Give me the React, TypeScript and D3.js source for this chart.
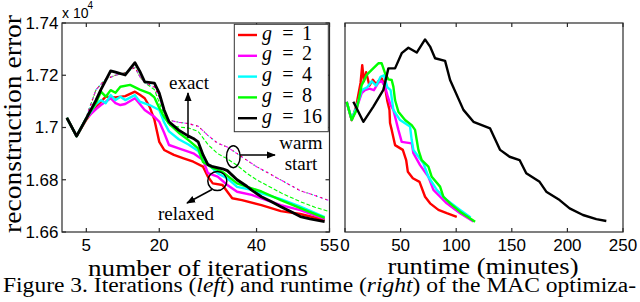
import React from 'react';
import * as d3 from 'd3';

// left panel: error vs iterations
const itBlack = [1, 3, 5, 7, 8, 10, 11, 13, 15, 16, 17, 19, 20, 21, 22, 24, 26, 27, 28, 29, 30, 31, 33, 34, 36, 38, 39, 41, 43, 45, 47, 49, 51, 54];
const errBlack = [1.7037, 1.6967, 1.7035, 1.7105, 1.7145, 1.7217, 1.7212, 1.7201, 1.7248, 1.7215, 1.7175, 1.717, 1.7132, 1.7067, 1.7022, 1.699, 1.6967, 1.6958, 1.6945, 1.6895, 1.6858, 1.685, 1.6842, 1.6835, 1.68, 1.6775, 1.676, 1.6735, 1.6717, 1.6697, 1.6678, 1.6659, 1.665, 1.664];
const itGreen = [1, 3, 5, 7, 8, 9, 10, 11, 12, 14, 16, 18, 19, 20, 21, 22, 24, 26, 28, 29, 31, 33, 36, 39, 41, 45, 49, 54];
const errGreen = [1.7037, 1.6967, 1.7035, 1.7095, 1.7137, 1.7118, 1.7143, 1.7133, 1.7156, 1.7163, 1.7145, 1.7131, 1.7115, 1.7075, 1.704, 1.7015, 1.698, 1.6952, 1.692, 1.6868, 1.6845, 1.683, 1.6786, 1.6767, 1.6755, 1.6722, 1.6691, 1.6654];
const itCyan = [1, 3, 5, 7, 8, 9, 10, 11, 12, 13, 15, 16, 18, 20, 21, 22, 24, 26, 28, 29, 30, 32, 34, 36, 39, 41, 45, 49, 54];
const errCyan = [1.7037, 1.6967, 1.7035, 1.709, 1.7105, 1.7093, 1.7124, 1.7105, 1.7118, 1.7105, 1.7124, 1.7099, 1.7086, 1.7067, 1.702, 1.6985, 1.6955, 1.6935, 1.691, 1.6875, 1.686, 1.6825, 1.6805, 1.6773, 1.6761, 1.6748, 1.6726, 1.6697, 1.6657];
const itMagenta = [1, 3, 5, 7, 8, 10, 11, 12, 13, 15, 16, 17, 19, 20, 21, 22, 24, 27, 29, 30, 32, 34, 36, 39, 41, 45, 49, 54];
const errMagenta = [1.7037, 1.6967, 1.7035, 1.707, 1.7086, 1.7112, 1.7093, 1.7086, 1.709, 1.7112, 1.709, 1.7067, 1.7041, 1.7022, 1.698, 1.6933, 1.692, 1.6901, 1.6876, 1.6825, 1.6812, 1.678, 1.6754, 1.6742, 1.6729, 1.6703, 1.6684, 1.665];
const itRed = [1, 3, 5, 7, 9, 11, 13, 15, 16, 17, 18, 19, 20, 21, 23, 25, 27, 29, 30, 31, 33, 34, 35, 37, 41, 45, 49, 54];
const errRed = [1.7037, 1.6967, 1.703, 1.708, 1.7118, 1.7115, 1.712, 1.7137, 1.7125, 1.7112, 1.708, 1.703, 1.6945, 1.6914, 1.6895, 1.6882, 1.6869, 1.685, 1.6812, 1.6786, 1.678, 1.6754, 1.6729, 1.6722, 1.6703, 1.668, 1.6669, 1.6646];
// warm start (dashed)
const itWarm = [1, 3, 5, 7, 9, 11, 13, 15, 16, 17, 19, 20, 21, 22, 24, 26, 28, 30, 32, 34, 36, 38, 40, 42, 45, 49, 52, 55];
const errWarmPink = [1.7037, 1.6967, 1.704, 1.7145, 1.7185, 1.72, 1.721, 1.723, 1.7195, 1.7172, 1.7155, 1.7115, 1.706, 1.7028, 1.702, 1.7015, 1.7005, 1.697, 1.694, 1.6925, 1.69, 1.6875, 1.685, 1.683, 1.6799, 1.6758, 1.674, 1.672];
const errWarmGreen = [1.7037, 1.6967, 1.704, 1.7145, 1.7185, 1.72, 1.721, 1.723, 1.7195, 1.7172, 1.7145, 1.7095, 1.705, 1.7008, 1.7002, 1.6998, 1.6985, 1.6935, 1.69, 1.688, 1.6855, 1.6825, 1.68, 1.678, 1.675, 1.6716, 1.6695, 1.6678];

// right panel: error vs runtime (minutes)
const tBlack = [7.5, 16.5, 25.5, 34.5, 39, 45, 51, 57, 64.5, 72, 76.5, 81, 90, 94.5, 106.5, 115.5, 130.5, 139.5, 148, 157, 163, 175, 181, 193, 202, 214, 226, 235];
const rBlack = [1.7036, 1.6969, 1.702, 1.7076, 1.7148, 1.7148, 1.7199, 1.7217, 1.7201, 1.7245, 1.7221, 1.7182, 1.7173, 1.7109, 1.7009, 1.6969, 1.6947, 1.6875, 1.6852, 1.6841, 1.6797, 1.6768, 1.6735, 1.6707, 1.6679, 1.6657, 1.6643, 1.6637];
const tGreen = [1.5, 6, 10.5, 15, 19.5, 24, 30, 33, 36, 39, 42, 43.5, 45, 48, 54, 60, 63, 64.5, 66, 69, 75, 78, 85.5, 88.5, 94.5, 103.5, 117];
const rGreen = [1.7036, 1.6975, 1.7009, 1.7092, 1.7126, 1.7143, 1.7165, 1.7165, 1.7132, 1.7111, 1.7109, 1.7087, 1.7042, 1.7003, 1.6975, 1.6958, 1.6942, 1.6908, 1.6875, 1.6841, 1.6819, 1.6785, 1.6752, 1.6718, 1.6696, 1.6668, 1.6634];
const tCyan = [1.5, 6, 10.5, 15, 20, 24, 28, 32, 35, 38, 41, 43.5, 49.5, 58.5, 60, 61.5, 70.5, 75, 82.5, 91.5, 103.5, 113];
const rCyan = [1.7036, 1.6978, 1.702, 1.7075, 1.7085, 1.7105, 1.709, 1.712, 1.7125, 1.7085, 1.7075, 1.7009, 1.6975, 1.6953, 1.6908, 1.6875, 1.683, 1.6785, 1.6741, 1.6707, 1.6674, 1.6649];
const tMagenta = [1.5, 6, 10, 15, 18, 22, 26, 30, 33, 36, 38.5, 41, 43.5, 48, 51, 60, 61.5, 67.5, 75, 79.5, 91.5, 103.5, 115.5];
const rMagenta = [1.7036, 1.6975, 1.701, 1.7065, 1.7075, 1.708, 1.7075, 1.71, 1.7105, 1.7087, 1.7053, 1.7025, 1.7009, 1.6942, 1.6902, 1.6897, 1.6864, 1.6824, 1.6785, 1.6741, 1.6696, 1.6663, 1.6635];
const tRed = [1.5, 6, 10, 14, 15.5, 17, 19, 22, 25, 28, 30, 33, 36, 38, 40, 40.5, 42, 45, 52, 55, 56.5, 61, 67, 72, 76.5, 84, 91.5, 100.5];
const rRed = [1.7036, 1.6975, 1.702, 1.71, 1.7159, 1.7105, 1.7135, 1.709, 1.711, 1.7095, 1.7105, 1.7115, 1.7085, 1.704, 1.7009, 1.6965, 1.6942, 1.6891, 1.6875, 1.6841, 1.6802, 1.678, 1.6768, 1.6718, 1.6696, 1.6674, 1.6663, 1.6651];

const legendLabels = ['1', '2', '4', '8', '16'];
const legendColors = ['#ff0000', '#ff00ff', '#00ffff', '#00ff00', '#000000'];
const iterTicks = [5, 20, 40, 55];
const errTicks = [1.66, 1.68, 1.7, 1.72, 1.74];
const errTickLabels = ['1.66', '1.68', '1.7', '1.72', '1.74'];
const timeTicks = [0, 50, 100, 150, 200, 250];

const SANS = 'Liberation Sans';
const SERIF = 'Liberation Serif';
const AX = '#2a2a2a';

const xL = d3.scaleLinear().domain([0, 55]).range([62, 329.5]);
const yL = d3.scaleLinear().domain([1.66, 1.74]).range([232, 23]);
const xR = d3.scaleLinear().domain([0, 250]).range([345, 623]);
const yR = d3.scaleLinear().domain([1.66, 1.73]).range([232, 23]);

function path(xs: number[], ys: number[], sx: any, sy: any) {
  const pts: [number, number][] = xs.map((x, i) => [x, ys[i]]);
  return d3.line<[number, number]>().x((d) => sx(d[0])).y((d) => sy(d[1]))(pts) || '';
}

function Box({ sx, sy, xticks, yticks }: any) {
  const [x0, x1] = sx.range();
  const [y0, y1] = sy.range();
  const tl = 4;
  return (
    <g stroke={AX} strokeWidth={1.2} fill="none">
      <rect x={x0} y={y1} width={x1 - x0} height={y0 - y1} />
      {xticks.map((t: number) => (
        <g key={'x' + t}>
          <line x1={sx(t)} x2={sx(t)} y1={y0} y2={y0 - tl} />
          <line x1={sx(t)} x2={sx(t)} y1={y1} y2={y1 + tl} />
        </g>
      ))}
      {yticks.map((t: number) => (
        <g key={'y' + t}>
          <line x1={x0} x2={x0 + tl} y1={sy(t)} y2={sy(t)} />
          <line x1={x1} x2={x1 - tl} y1={sy(t)} y2={sy(t)} />
        </g>
      ))}
    </g>
  );
}

const sans = { fontFamily: SANS };
const serif = { fontFamily: SERIF };

export default function App() {
  const solidL = [
    { xs: itRed, ys: errRed, c: legendColors[0], w: 2.4 },
    { xs: itMagenta, ys: errMagenta, c: legendColors[1], w: 2.4 },
    { xs: itCyan, ys: errCyan, c: legendColors[2], w: 2.4 },
    { xs: itGreen, ys: errGreen, c: legendColors[3], w: 2.4 },
    { xs: itBlack, ys: errBlack, c: legendColors[4], w: 2.8 },
  ];
  const dashedL = [
    { ys: errWarmGreen, c: legendColors[3] },
    { ys: errWarmPink, c: legendColors[2] },
    { ys: errWarmPink, c: legendColors[1] },
    { ys: errWarmPink, c: legendColors[0] },
  ];
  const solidR = [
    { xs: tRed, ys: rRed, c: legendColors[0] },
    { xs: tMagenta, ys: rMagenta, c: legendColors[1] },
    { xs: tCyan, ys: rCyan, c: legendColors[2] },
    { xs: tGreen, ys: rGreen, c: legendColors[3] },
    { xs: tBlack, ys: rBlack, c: legendColors[4] },
  ];

  return (
    <svg width={640} height={302} style={{ position: 'absolute', left: 0, top: 0, background: '#fff' }}>
      <defs>
        <marker id="ah" viewBox="0 0 10 10" refX="9" refY="5" markerWidth="6" markerHeight="6" orient="auto">
          <path d="M0,1 L10,5 L0,9 z" fill="#000" />
        </marker>
        <clipPath id="clipL"><rect x={62} y={23} width={267.5} height={209} /></clipPath>
        <clipPath id="clipR"><rect x={345} y={23} width={278} height={209} /></clipPath>
      </defs>

      {/* left panel */}
      <g clipPath="url(#clipL)" fill="none" strokeLinejoin="round">
        {dashedL.map((s, i) => (
          <path key={i} d={path(itWarm, s.ys, xL, yL)} stroke={s.c} strokeWidth={1.1} strokeDasharray={i === 0 ? '4,2' : i === 1 ? '2,3' : i === 2 ? '3,3' : '1,4'} />
        ))}
        {solidL.map((s, i) => (
          <path key={i} d={path(s.xs, s.ys, xL, yL)} stroke={s.c} strokeWidth={s.w} />
        ))}
      </g>
      <Box sx={xL} sy={yL} xticks={iterTicks} yticks={errTicks} />
      <g style={sans} fontSize={17} fill="#000">
        {errTicks.map((t, i) => (
          <text key={t} x={58.5} y={yL(t)} dy="0.35em" textAnchor="end">{errTickLabels[i]}</text>
        ))}
        {iterTicks.map((t) => (
          <text key={t} x={xL(t)} y={251} textAnchor="middle">{t}</text>
        ))}
        {timeTicks.map((t) => (
          <text key={t} x={xR(t)} y={251} textAnchor="middle">{t}</text>
        ))}
      </g>
      <text x={62} y={18} style={sans} fontSize={14}>x 10</text>
      <text x={87.5} y={9} style={sans} fontSize={10}>4</text>

      {/* annotations */}
      <g style={serif} fontSize={19} fill="#000">
        <text x={189} y={89} textAnchor="middle">exact</text>
        <text x={301} y={149} textAnchor="middle">warm</text>
        <text x={301} y={170} textAnchor="middle">start</text>
        <text x={186} y={220} textAnchor="middle">relaxed</text>
      </g>
      <g stroke="#000" strokeWidth={1.5} fill="none">
        <line x1={188} y1={138} x2={188} y2={93} markerEnd="url(#ah)" />
        <ellipse cx={233.3} cy={156.7} rx={6.8} ry={11} />
        <line x1={240} y1={155} x2={275} y2={155} markerEnd="url(#ah)" />
        <circle cx={217.3} cy={181} r={9.5} />
        <line x1={212} y1={189.5} x2={187} y2={203} markerEnd="url(#ah)" />
      </g>

      {/* legend */}
      <rect x={234.3} y={24.3} width={94} height={107.4} fill="#fff" stroke="#333" strokeWidth={1} />
      {legendLabels.map((lab, i) => {
        const ly = 35 + i * 20.8;
        return (
          <g key={lab} style={serif} fontSize={20}>
            <line x1={238} x2={257} y1={ly} y2={ly} stroke={legendColors[i]} strokeWidth={2.4} />
            <text x={262} y={ly + 4.5} fontStyle="italic">g</text>
            <text x={288} y={ly + 4.5} textAnchor="middle">=</text>
            <text x={302} y={ly + 4.5}>{lab}</text>
          </g>
        );
      })}

      {/* right panel */}
      <g clipPath="url(#clipR)" fill="none" strokeLinejoin="round">
        {solidR.map((s, i) => (
          <path key={i} d={path(s.xs, s.ys, xR, yR)} stroke={s.c} strokeWidth={2.4} />
        ))}
      </g>
      <Box sx={xR} sy={yR} xticks={timeTicks} yticks={[]} />

      {/* axis titles */}
      <text x={88} y={276} style={serif} fontSize={23} textLength={220} lengthAdjust="spacingAndGlyphs">number of iterations</text>
      <text x={387.5} y={274} style={serif} fontSize={23} textLength={191} lengthAdjust="spacingAndGlyphs">runtime (minutes)</text>
      <text transform="translate(21,124) rotate(-90)" textAnchor="middle" style={serif} fontSize={25} textLength={218} lengthAdjust="spacingAndGlyphs">reconstruction error</text>
      <text x={3} y={292} style={serif} fontSize={20.5} textLength={633} lengthAdjust="spacingAndGlyphs">
        Figure 3. Iterations (<tspan fontStyle="italic">left</tspan>) and runtime (<tspan fontStyle="italic">right</tspan>) of the MAC optimiza-
      </text>
    </svg>
  );
}
